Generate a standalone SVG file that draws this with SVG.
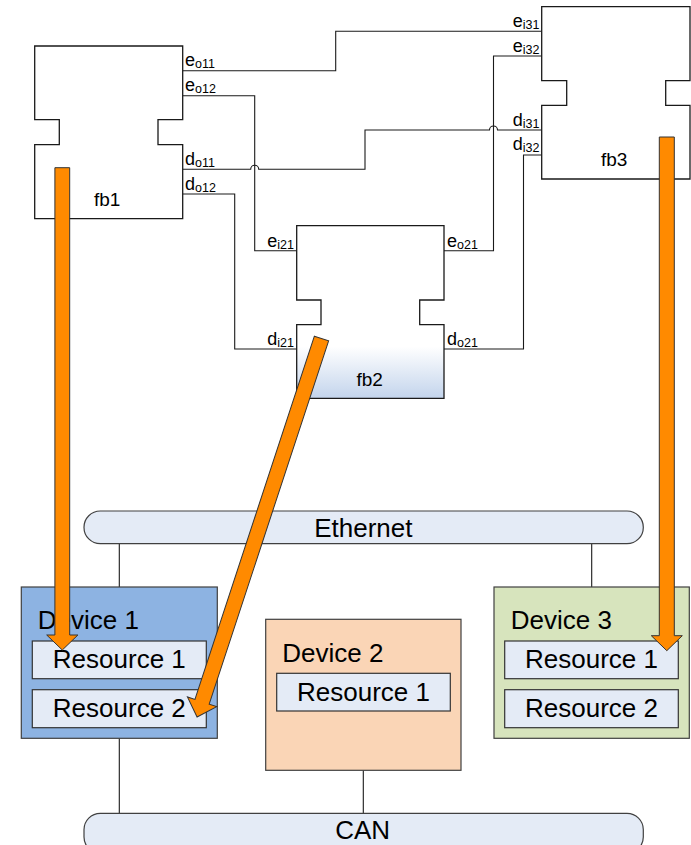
<svg xmlns="http://www.w3.org/2000/svg" width="691" height="845" viewBox="0 0 691 845">
<style>
.fb{fill:#fff;stroke:#1a1a1a;stroke-width:1.3}
.wire{fill:none;stroke:#1a1a1a;stroke-width:1.1}
.lbl{font-family:"Liberation Sans",Arial,sans-serif;font-size:18px;fill:#000}
.fbt{font-family:"Liberation Sans",Arial,sans-serif;font-size:19px;fill:#000}
.big{font-family:"Liberation Sans",Arial,sans-serif;font-size:26px;fill:#000}
.bus{fill:#e4ebf6;stroke:#404040;stroke-width:1.2}
.res{fill:#e4ebf6;stroke:#333;stroke-width:1.2}
.dev{stroke:#404040;stroke-width:1.2}
.arrow{fill:#ff8a00;stroke:#333;stroke-width:1}
</style>
<defs>
<linearGradient id="g2" x1="0" y1="0" x2="0" y2="1">
<stop offset="0" stop-color="#fff"/>
<stop offset="0.7" stop-color="#fff"/>
<stop offset="1" stop-color="#c3d4ec"/>
</linearGradient>
</defs>

<g id="connectors">
<path class="wire" d="M182.7,70.7 H335.7 V31.3 H541.7"/>
<path class="wire" d="M182.7,95.7 H254.7 V250.7 H296.7"/>
<path class="wire" d="M182.7,169.3 H250.7 A4,4 0 0 1 258.7,169.3 H365 V130 H489.5 A4,4 0 0 1 497.5,130 H541.7"/>
<path class="wire" d="M182.7,194 H234.7 V349 H296.7"/>
<path class="wire" d="M444,250.7 H493.5 V56 H541.7"/>
<path class="wire" d="M444,349 H523.5 V155 H541.7"/>
<path class="wire" d="M119.3,543.7 V587 M591.7,543.7 V587 M119.3,738.3 V813.3 M363.3,770.3 V813.3"/>
</g>

<g id="fb1">
<path class="fb" d="M34.7,46 H182.7 V119.7 H158 V144.7 H182.7 V218.7 H34.7 V144.7 H59.3 V119.7 H34.7 Z"/>
<text class="fbt" x="94" y="205.7">fb1</text>
<text class="lbl" x="185" y="66">e<tspan font-size="12.5" dy="2">o11</tspan></text>
<text class="lbl" x="185" y="91">e<tspan font-size="12.5" dy="2">o12</tspan></text>
<text class="lbl" x="185" y="165">d<tspan font-size="12.5" dy="2">o11</tspan></text>
<text class="lbl" x="185" y="189.5">d<tspan font-size="12.5" dy="2">o12</tspan></text>
</g>

<g id="fb2">
<path class="fb" style="fill:url(#g2)" d="M296.7,225.7 H444 V300 H419.7 V324.7 H444 V398.3 H296.7 V324.7 H321 V300 H296.7 Z"/>
<text class="fbt" x="356.5" y="385.7">fb2</text>
<text class="lbl" x="294" y="246.5" text-anchor="end">e<tspan font-size="12.5" dy="2">i21</tspan></text>
<text class="lbl" x="294" y="345" text-anchor="end">d<tspan font-size="12.5" dy="2">i21</tspan></text>
<text class="lbl" x="447" y="246.5">e<tspan font-size="12.5" dy="2">o21</tspan></text>
<text class="lbl" x="447" y="345">d<tspan font-size="12.5" dy="2">o21</tspan></text>
</g>

<g id="fb3">
<path class="fb" d="M541.7,6.7 H690 V80.7 H665.7 V105.3 H690 V179 H541.7 V105.3 H566.7 V80.7 H541.7 Z"/>
<text class="fbt" x="601" y="165.7">fb3</text>
<text class="lbl" x="539.5" y="27" text-anchor="end">e<tspan font-size="12.5" dy="2">i31</tspan></text>
<text class="lbl" x="539.5" y="51.5" text-anchor="end">e<tspan font-size="12.5" dy="2">i32</tspan></text>
<text class="lbl" x="539.5" y="125.5" text-anchor="end">d<tspan font-size="12.5" dy="2">i31</tspan></text>
<text class="lbl" x="539.5" y="150" text-anchor="end">d<tspan font-size="12.5" dy="2">i32</tspan></text>
</g>

<g id="ethernet">
<rect class="bus" x="84" y="511" width="559.3" height="32.7" rx="16.3"/>
<text class="big" x="363.3" y="536.5" text-anchor="middle">Ethernet</text>
</g>

<g id="can">
<rect class="bus" x="84" y="813.3" width="559.3" height="40" rx="16.3"/>
<text class="big" x="362.7" y="838.5" text-anchor="middle">CAN</text>
</g>

<g id="device1">
<rect class="dev" fill="#8db3e2" x="21.3" y="587" width="196" height="151.3"/>
<text class="big" x="37.7" y="629.3">Device 1</text>
<rect class="res" x="32.3" y="641" width="174" height="37.7"/>
<text class="big" x="119.3" y="668.3" text-anchor="middle">Resource 1</text>
<rect class="res" x="32.3" y="689.7" width="174" height="38"/>
<text class="big" x="119.3" y="717.3" text-anchor="middle">Resource 2</text>
</g>

<g id="device2">
<rect class="dev" fill="#fad5b6" x="265.7" y="619.3" width="195.3" height="151"/>
<text class="big" x="282.3" y="661.7">Device 2</text>
<rect class="res" x="276.7" y="673.3" width="173.6" height="37.7"/>
<text class="big" x="363.5" y="700.5" text-anchor="middle">Resource 1</text>
</g>

<g id="device3">
<rect class="dev" fill="#d7e4bd" x="494" y="587" width="195.3" height="151.3"/>
<text class="big" x="510.7" y="629.3">Device 3</text>
<rect class="res" x="504.7" y="641" width="173.6" height="37.7"/>
<text class="big" x="591.5" y="668.3" text-anchor="middle">Resource 1</text>
<rect class="res" x="504.7" y="689.7" width="173.6" height="38"/>
<text class="big" x="591.5" y="717.3" text-anchor="middle">Resource 2</text>
</g>

<g id="arrows">
<path class="arrow" transform="translate(62.3,167.7)" d="M-7.4,0 H7.4 V467.3 H15.6 L0,482.3 L-15.6,467.3 H-7.4 Z"/>
<path class="arrow" transform="translate(666.8,137)" d="M-7.5,0 H7.5 V498.7 H15.5 L0,513.7 L-15.5,498.7 H-7.5 Z"/>
<path class="arrow" transform="translate(321.5,338.5) rotate(18.2)" d="M-7.5,0 H7.5 V382.4 H15.4 L0,398.4 L-15.4,382.4 H-7.5 Z"/>
</g>
</svg>
